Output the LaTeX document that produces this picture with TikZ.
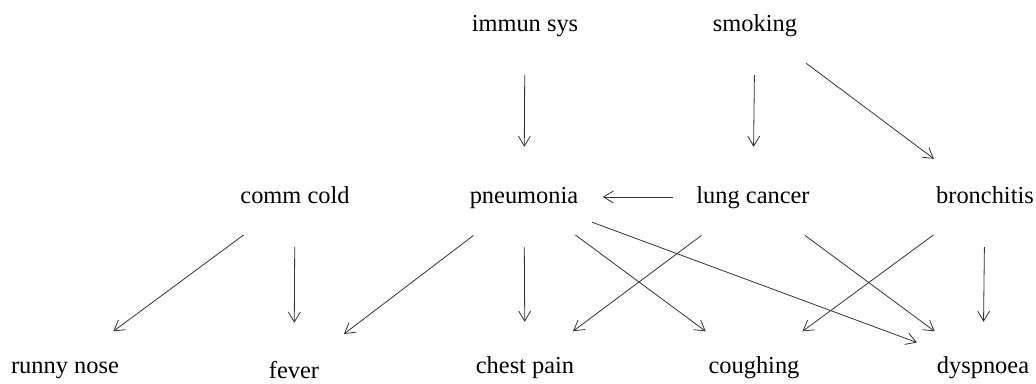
\documentclass[tikz,border=0pt]{standalone}
\usepackage{fontspec}
\setmainfont{Liberation Serif}
\usetikzlibrary{arrows.meta,shapes.geometric}
\begin{document}
\begin{tikzpicture}[x=1pt,y=-1pt,
  var/.style={ellipse,minimum width=157pt,minimum height=100pt,inner sep=0pt,
    font=\fontsize{24.4}{29}\selectfont,text height=17pt,text depth=5pt},
  leaf/.style={var,minimum height=90pt},
  edge/.style={draw=black!80,line width=0.8pt,-{Straight Barb[length=10pt,width=12pt]}}]
\useasboundingbox (0,0) rectangle (1036,383);
\node[var] (imm) at (525,25) {immun sys};
\node[var] (smk) at (755,25) {smoking};
\node[var] (cc) at (295,197) {comm cold};
\node[var] (pn) at (524,197) {pneumonia};
\node[var] (lc) at (753,197) {lung cancer};
\node[var] (br) at (985,197) {bronchitis};
\node[leaf] (rn) at (65,367) {runny nose};
\node[leaf,minimum height=98pt] (fv) at (294,372) {fever};
\node[leaf] (cp) at (525,367) {chest pain};
\node[leaf] (co) at (754,367) {coughing};
\node[leaf] (dy) at (983,367) {dyspnoea};
\draw[edge] (imm) -- (pn);
\draw[edge] (smk) -- (lc);
\draw[edge] (smk) -- (br);
\draw[edge] (lc) -- (pn);
\draw[edge] (cc) -- (rn);
\draw[edge] (cc) -- (fv);
\draw[edge] (pn) -- (fv);
\draw[edge] (pn) -- (cp);
\draw[edge] (pn) -- (co);
\draw[edge] (pn) -- (dy);
\draw[edge] (lc) -- (cp);
\draw[edge] (lc) -- (dy);
\draw[edge] (br) -- (co);
\draw[edge] (br) -- (dy);
\end{tikzpicture}
\end{document}
